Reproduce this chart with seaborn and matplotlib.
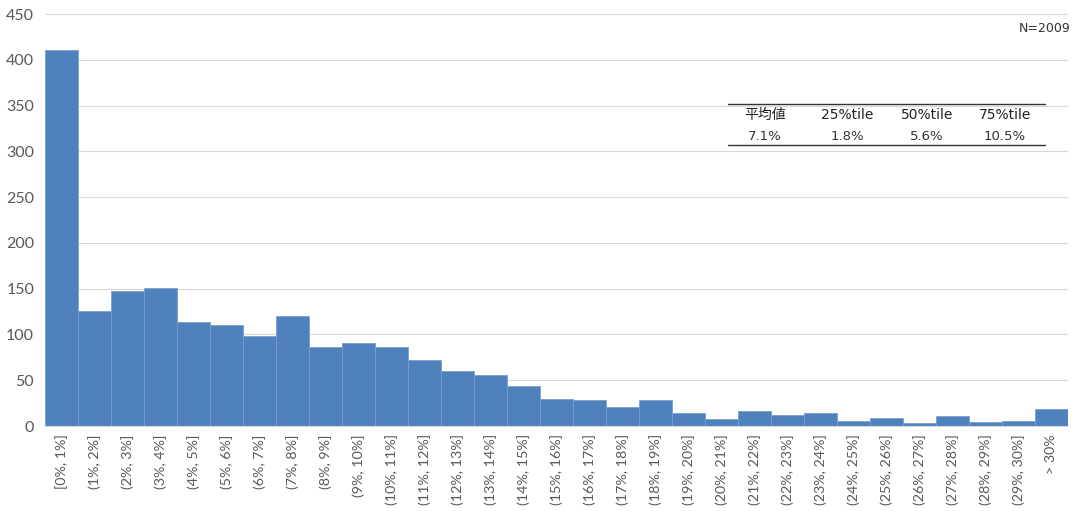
import numpy as np
import pandas as pd
import seaborn as sns
from matplotlib import pyplot as plt
from matplotlib.lines import Line2D

# ========================================================
labels = ["[0%, 1%]"] + [f"({i}%, {i+1}%]" for i in range(1, 30)] + ["> 30%"]
counts = [411, 126, 148, 151, 114, 110, 98, 120, 86, 91,
          86, 72, 60, 56, 44, 30, 28, 21, 28, 14,
          8, 16, 12, 14, 6, 9, 3, 11, 4, 5, 19]

stat_names = ["平均値", "25%tile", "50%tile", "75%tile"]
stat_values = ["7.1%", "1.8%", "5.6%", "10.5%"]
n_text = "N=2009"

# ========================================================
sns.set_style("white")
plt.rcParams["font.family"] = ["Lato", "Noto Sans CJK JP", "DejaVu Sans"]

df = pd.DataFrame({"bin": labels, "count": counts})

fig = plt.figure(figsize=(10.77, 5.11), dpi=100)
ax = fig.add_axes([0.042, 0.1663, 0.9495, 0.8063])

sns.barplot(data=df, x="bin", y="count", color="#4F81BD", saturation=1,
            width=1.0, edgecolor="#7A9FCF", linewidth=0.6, ax=ax, zorder=2)

ax.set_xlim(-0.5, len(labels) - 0.5)
ax.set_ylim(0, 450)
ax.set_yticks(np.arange(0, 451, 50))
ax.yaxis.grid(True, color="#D9D9D9", linewidth=0.8, zorder=0)
ax.set_axisbelow(True)
for s in ["top", "right", "left"]:
    ax.spines[s].set_visible(False)
ax.spines["bottom"].set_color("#D9D9D9")
ax.set_xlabel("")
ax.set_ylabel("")
ax.tick_params(axis="x", rotation=90, labelsize=10.3, colors="#595959", length=0, pad=6)
ax.tick_params(axis="y", labelsize=11.5, colors="#595959", length=0, pad=8)

# summary table
tx = [765, 847, 927, 1005]
for x, name, val in zip(tx, stat_names, stat_values):
    fig.text(x / 1077, 1 - 115 / 511, name, ha="center", va="center", fontsize=10,
             color="#222222", family=["DejaVu Sans", "Noto Sans CJK JP"])
    fig.text(x / 1077, 1 - 136 / 511, val, ha="center", va="center", fontsize=9.5,
             color="#333333", family="DejaVu Sans")
for y in [104, 145]:
    fig.add_artist(Line2D([728 / 1077, 1045 / 1077], [1 - y / 511, 1 - y / 511],
                          color="#333333", linewidth=1.0))

fig.text(1071 / 1077, 1 - 29 / 511, n_text, ha="right", va="center", fontsize=9,
         color="#333333", family="Liberation Sans Narrow")

plt.savefig("out.png", dpi=100)
